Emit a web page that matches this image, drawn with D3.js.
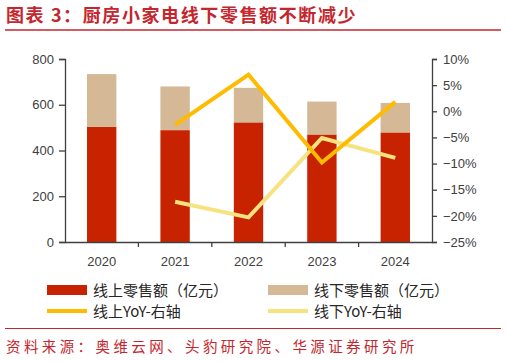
<!DOCTYPE html>
<html lang="zh">
<head>
<meta charset="UTF-8">
<title>厨房小家电线下零售额不断减少</title>
<style>
    body { margin: 0; background: #fff; }
    svg { display: block; font-family: "Liberation Sans", Arial, sans-serif; }
    .cn { font-family: "Noto Sans CJK SC", sans-serif; }
    .axis text { font-size: 13px; fill: #404040; }
    .axis path, .axis line { stroke: #404040; stroke-width: 1.3; }
</style>
</head>
<body>
<svg width="506" height="361"></svg>
<script src="https://d3js.org/d3.v7.min.js"></script>
<script>
    // data
    const years = ["2020", "2021", "2022", "2023", "2024"];
    const online = [503, 489, 523, 470, 479];      // 线上零售额（亿元）
    const offline = [231, 191, 151, 144, 129];     // 线下零售额（亿元）
    const yoyYears = ["2021", "2022", "2023", "2024"];
    const onlineYoY = [-2.6, 7.0, -9.8, 1.8];      // %
    const offlineYoY = [-17.3, -20.3, -5.1, -8.9]; // %
    const leftTicks = [0, 200, 400, 600, 800];
    const rightTicks = [10, 5, 0, -5, -10, -15, -20, -25];

    const red = "#C82300", tan = "#D5B895", gold = "#FFBB00", paleGold = "#F6E37F";
    const titleRed = "#C4262E";

    const svg = d3.select("svg");
    const plotL = 65, plotR = 432, plotT = 59, plotB = 242;

    // title
    svg.append("text").attr("class", "cn")
        .attr("x", 6).attr("y", 22)
        .attr("font-size", 18).attr("font-weight", "bold")
        .attr("letter-spacing", 1.6)
        .attr("fill", titleRed)
        .text("图表 3：厨房小家电线下零售额不断减少");
    svg.append("line").attr("x1", 5).attr("x2", 501).attr("y1", 30).attr("y2", 30)
        .attr("stroke", titleRed).attr("stroke-width", 1.5);

    const x = d3.scaleBand().domain(years).range([plotL, plotR])
        .paddingInner(0.6).paddingOuter(0.3);
    const xCat = d3.scaleBand().domain(years).range([plotL, plotR]);
    const y = d3.scaleLinear().domain([0, 800]).range([plotB, plotT]);
    const y2 = d3.scaleLinear().domain([-25, 10]).range([plotB, plotT]);

    // stacked bars
    const rows = years.map((yr, i) => ({ year: yr, online: online[i], offline: offline[i] }));
    const stack = d3.stack().keys(["online", "offline"])(rows);
    const colors = { online: red, offline: tan };
    svg.append("g").selectAll("g").data(stack).join("g")
        .attr("fill", d => colors[d.key])
        .selectAll("rect").data(d => d).join("rect")
        .attr("x", d => x(d.data.year))
        .attr("width", x.bandwidth())
        .attr("y", d => y(d[1]))
        .attr("height", d => y(d[0]) - y(d[1]));

    // axes
    svg.append("g").attr("class", "axis")
        .attr("transform", `translate(${plotL},0)`)
        .call(d3.axisLeft(y).tickValues(leftTicks).tickSize(6).tickPadding(5));
    svg.append("g").attr("class", "axis")
        .attr("transform", `translate(${plotR},0)`)
        .call(d3.axisRight(y2).tickValues(rightTicks).tickSize(5).tickPadding(6)
            .tickFormat(d => (d < 0 ? "\u2212" + Math.abs(d) : d) + "%"));
    const xAxis = svg.append("g").attr("class", "axis")
        .attr("transform", `translate(0,${plotB})`)
        .call(d3.axisBottom(xCat).tickSize(0).tickPadding(15));
    xAxis.append("g").selectAll("line").data(years.slice(1)).join("line")
        .attr("x1", d => xCat(d)).attr("x2", d => xCat(d))
        .attr("y1", 0).attr("y2", 5)
        .attr("stroke", "#404040").attr("stroke-width", 1.3);

    // YoY lines
    const line = d3.line()
        .x(d => x(d[0]) + x.bandwidth() / 2)
        .y(d => y2(d[1]));
    svg.append("path").datum(d3.zip(yoyYears, offlineYoY))
        .attr("d", line).attr("fill", "none")
        .attr("stroke", paleGold).attr("stroke-width", 4);
    svg.append("path").datum(d3.zip(yoyYears, onlineYoY))
        .attr("d", line).attr("fill", "none")
        .attr("stroke", gold).attr("stroke-width", 4);

    // legend
    const legend = [
        { name: "线上零售额（亿元）", color: red, type: "rect", x: 47, y: 290 },
        { name: "线下零售额（亿元）", color: tan, type: "rect", x: 268, y: 290 },
        { name: "线上YoY-右轴", color: gold, type: "line", x: 47, y: 311 },
        { name: "线下YoY-右轴", color: paleGold, type: "line", x: 268, y: 311 }
    ];
    const lg = svg.append("g").selectAll("g").data(legend).join("g")
        .attr("transform", d => `translate(${d.x},${d.y})`);
    lg.filter(d => d.type === "rect").append("rect")
        .attr("x", 0).attr("y", -5).attr("width", 40).attr("height", 10)
        .attr("fill", d => d.color);
    lg.filter(d => d.type === "line").append("line")
        .attr("x1", 0).attr("x2", 40).attr("y1", 0).attr("y2", 0)
        .attr("stroke", d => d.color).attr("stroke-width", 4);
    lg.append("text").attr("class", "cn")
        .attr("x", 46).attr("y", 5.5)
        .attr("font-size", 15).attr("fill", "#262626")
        .text(d => d.name);

    // source
    svg.append("line").attr("x1", 5).attr("x2", 501).attr("y1", 328.5).attr("y2", 328.5)
        .attr("stroke", titleRed).attr("stroke-width", 1.2);
    svg.append("text").attr("class", "cn")
        .attr("x", 6).attr("y", 352)
        .attr("font-size", 14.5).attr("letter-spacing", 3.4)
        .attr("fill", titleRed)
        .text("资料来源：奥维云网、头豹研究院、华源证券研究所");
</script>
</body>
</html>
